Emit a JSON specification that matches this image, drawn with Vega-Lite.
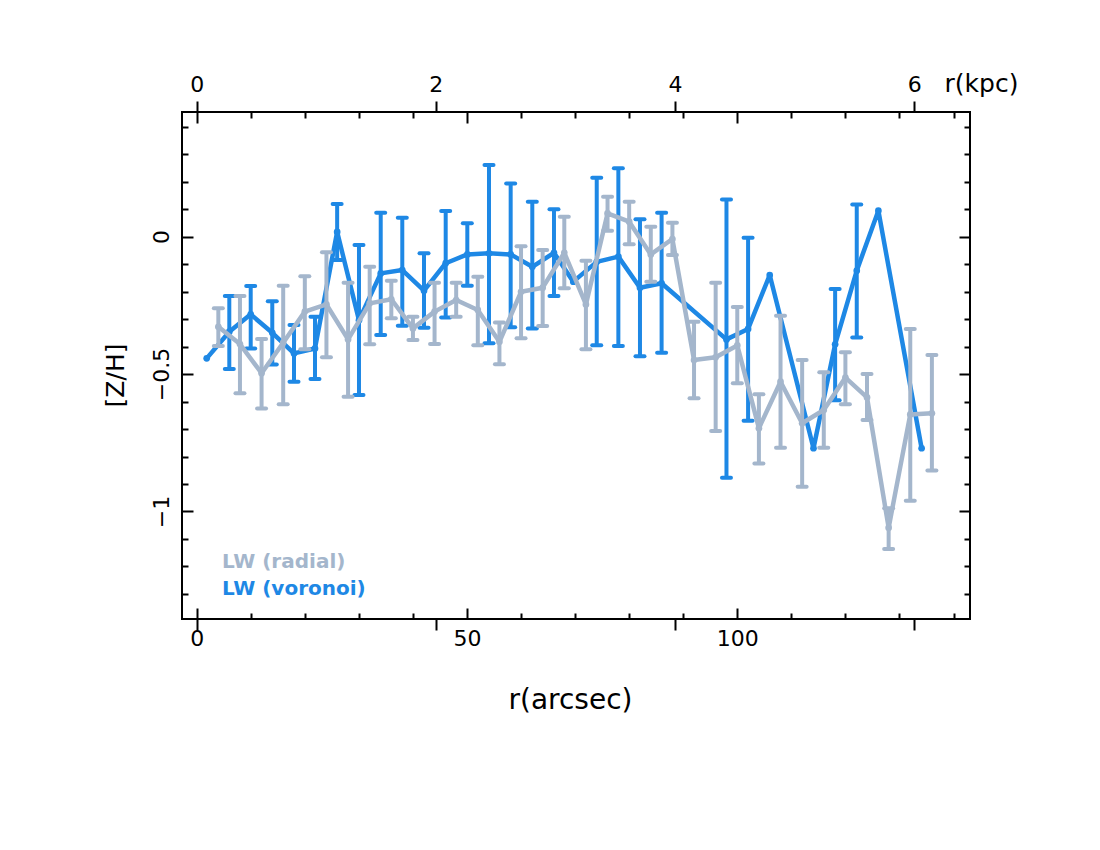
{
  "$schema": "https://vega.github.io/schema/vega-lite/v6.json",
  "width": 788,
  "height": 507,
  "autosize": {"type": "none"},
  "padding": {"left": 182, "top": 112, "right": 130, "bottom": 231},
  "background": "white",
  "config": {
    "view": {"stroke": "black", "strokeWidth": 2},
    "axis": {"domain": false, "grid": false, "tickColor": "black", "tickWidth": 2, "labelFont": "DejaVu Sans", "labelFontSize": 22, "labelColor": "black", "titleFont": "DejaVu Sans", "titleFontWeight": "normal", "titleColor": "black", "titleFontSize": 24}
  },
  "datasets": {
    "pts": [
      {"s": "LW (voronoi)", "r": 1.85, "z": -0.443, "lo": null, "hi": null},
      {"s": "LW (voronoi)", "r": 6.03, "z": -0.346, "lo": -0.482, "hi": -0.216},
      {"s": "LW (voronoi)", "r": 9.99, "z": -0.283, "lo": -0.407, "hi": -0.18},
      {"s": "LW (voronoi)", "r": 13.98, "z": -0.35, "lo": -0.465, "hi": -0.235},
      {"s": "LW (voronoi)", "r": 18.0, "z": -0.425, "lo": -0.528, "hi": -0.322},
      {"s": "LW (voronoi)", "r": 21.88, "z": -0.407, "lo": -0.518, "hi": -0.292},
      {"s": "LW (voronoi)", "r": 25.98, "z": 0.017, "lo": -0.085, "hi": 0.118},
      {"s": "LW (voronoi)", "r": 30.02, "z": -0.304, "lo": -0.576, "hi": -0.031},
      {"s": "LW (voronoi)", "r": 34.04, "z": -0.134, "lo": -0.358, "hi": 0.087},
      {"s": "LW (voronoi)", "r": 38.03, "z": -0.122, "lo": -0.324, "hi": 0.068},
      {"s": "LW (voronoi)", "r": 42.05, "z": -0.197, "lo": -0.332, "hi": -0.061},
      {"s": "LW (voronoi)", "r": 46.06, "z": -0.097, "lo": -0.294, "hi": 0.093},
      {"s": "LW (voronoi)", "r": 50.06, "z": -0.065, "lo": -0.179, "hi": 0.048},
      {"s": "LW (voronoi)", "r": 54.07, "z": -0.061, "lo": -0.388, "hi": 0.26},
      {"s": "LW (voronoi)", "r": 58.08, "z": -0.065, "lo": -0.33, "hi": 0.193},
      {"s": "LW (voronoi)", "r": 62.08, "z": -0.11, "lo": -0.334, "hi": 0.127},
      {"s": "LW (voronoi)", "r": 66.09, "z": -0.059, "lo": -0.216, "hi": 0.099},
      {"s": "LW (voronoi)", "r": 69.66, "z": -0.164, "lo": null, "hi": null},
      {"s": "LW (voronoi)", "r": 74.0, "z": -0.092, "lo": -0.395, "hi": 0.214},
      {"s": "LW (voronoi)", "r": 78.0, "z": -0.073, "lo": -0.398, "hi": 0.248},
      {"s": "LW (voronoi)", "r": 82.0, "z": -0.186, "lo": -0.435, "hi": 0.063},
      {"s": "LW (voronoi)", "r": 86.0, "z": -0.17, "lo": -0.423, "hi": 0.087},
      {"s": "LW (voronoi)", "r": 98.0, "z": -0.374, "lo": -0.877, "hi": 0.135},
      {"s": "LW (voronoi)", "r": 102.0, "z": -0.336, "lo": -0.67, "hi": -0.004},
      {"s": "LW (voronoi)", "r": 106.0, "z": -0.14, "lo": null, "hi": null},
      {"s": "LW (voronoi)", "r": 114.1, "z": -0.77, "lo": null, "hi": null},
      {"s": "LW (voronoi)", "r": 118.1, "z": -0.392, "lo": -0.595, "hi": -0.191},
      {"s": "LW (voronoi)", "r": 122.1, "z": -0.124, "lo": -0.367, "hi": 0.117},
      {"s": "LW (voronoi)", "r": 126.1, "z": 0.094, "lo": null, "hi": null},
      {"s": "LW (voronoi)", "r": 134.1, "z": -0.77, "lo": null, "hi": null},
      {"s": "LW (radial)", "r": 4, "z": -0.328, "lo": -0.398, "hi": -0.261},
      {"s": "LW (radial)", "r": 8, "z": -0.391, "lo": -0.57, "hi": -0.216},
      {"s": "LW (radial)", "r": 12, "z": -0.497, "lo": -0.625, "hi": -0.373},
      {"s": "LW (radial)", "r": 16, "z": -0.386, "lo": -0.61, "hi": -0.179},
      {"s": "LW (radial)", "r": 20, "z": -0.273, "lo": -0.41, "hi": -0.144},
      {"s": "LW (radial)", "r": 24, "z": -0.247, "lo": -0.439, "hi": -0.057},
      {"s": "LW (radial)", "r": 28, "z": -0.374, "lo": -0.583, "hi": -0.168},
      {"s": "LW (radial)", "r": 32, "z": -0.243, "lo": -0.392, "hi": -0.11},
      {"s": "LW (radial)", "r": 36, "z": -0.228, "lo": -0.297, "hi": -0.161},
      {"s": "LW (radial)", "r": 40, "z": -0.334, "lo": -0.376, "hi": -0.292},
      {"s": "LW (radial)", "r": 44, "z": -0.273, "lo": -0.391, "hi": -0.168},
      {"s": "LW (radial)", "r": 48, "z": -0.231, "lo": -0.292, "hi": -0.168},
      {"s": "LW (radial)", "r": 52, "z": -0.267, "lo": -0.395, "hi": -0.146},
      {"s": "LW (radial)", "r": 56, "z": -0.383, "lo": -0.464, "hi": -0.313},
      {"s": "LW (radial)", "r": 60, "z": -0.201, "lo": -0.37, "hi": -0.035},
      {"s": "LW (radial)", "r": 64, "z": -0.186, "lo": -0.325, "hi": -0.049},
      {"s": "LW (radial)", "r": 68, "z": -0.059, "lo": -0.188, "hi": 0.072},
      {"s": "LW (radial)", "r": 72, "z": -0.247, "lo": -0.41, "hi": -0.088},
      {"s": "LW (radial)", "r": 76, "z": 0.084, "lo": 0.021, "hi": 0.145},
      {"s": "LW (radial)", "r": 80, "z": 0.054, "lo": -0.028, "hi": 0.127},
      {"s": "LW (radial)", "r": 84, "z": -0.065, "lo": -0.164, "hi": 0.036},
      {"s": "LW (radial)", "r": 88, "z": -0.009, "lo": -0.067, "hi": 0.05},
      {"s": "LW (radial)", "r": 92, "z": -0.449, "lo": -0.588, "hi": -0.31},
      {"s": "LW (radial)", "r": 96, "z": -0.439, "lo": -0.707, "hi": -0.168},
      {"s": "LW (radial)", "r": 100, "z": -0.396, "lo": -0.534, "hi": -0.256},
      {"s": "LW (radial)", "r": 104, "z": -0.697, "lo": -0.825, "hi": -0.574},
      {"s": "LW (radial)", "r": 108, "z": -0.528, "lo": -0.768, "hi": -0.288},
      {"s": "LW (radial)", "r": 112, "z": -0.679, "lo": -0.91, "hi": -0.449},
      {"s": "LW (radial)", "r": 116, "z": -0.631, "lo": -0.768, "hi": -0.494},
      {"s": "LW (radial)", "r": 120, "z": -0.513, "lo": -0.61, "hi": -0.421},
      {"s": "LW (radial)", "r": 124, "z": -0.585, "lo": -0.667, "hi": -0.5},
      {"s": "LW (radial)", "r": 128, "z": -1.059, "lo": -1.136, "hi": -0.988},
      {"s": "LW (radial)", "r": 132, "z": -0.647, "lo": -0.961, "hi": -0.336},
      {"s": "LW (radial)", "r": 136, "z": -0.643, "lo": -0.851, "hi": -0.431}
    ]
  },
  "resolve": {"scale": {"x": "independent", "y": "independent"}, "axis": {"x": "independent", "y": "independent"}},
  "layer": [
    {
      "data": {"values": [{"a": 0, "b": 0}]},
      "mark": {"type": "point", "opacity": 0},
      "encoding": {
        "x": {"field": "a", "type": "quantitative", "scale": {"domain": [-2.72, 143.05], "nice": false, "zero": false},
          "axis": {"orient": "top", "values": [0, 10, 20, 30, 40, 50, 60, 70, 80, 90, 100, 110, 120, 130, 140],
            "tickSize": {"condition": {"test": "datum.value % 50 === 0", "value": -11}, "value": -6},
            "labels": false, "title": null}},
        "y": {"field": "b", "type": "quantitative", "scale": {"domain": [-1.391, 0.453], "nice": false, "zero": false},
          "axis": {"orient": "right", "values": [-1.3, -1.2, -1.1, -1, -0.9, -0.8, -0.7, -0.6, -0.5, -0.4, -0.3, -0.2, -0.1, 0, 0.1, 0.2, 0.3, 0.4],
            "tickSize": {"condition": {"test": "abs(datum.value*2 - round(datum.value*2)) < 0.001", "value": -11}, "value": -6},
            "labels": false, "title": null}}
      }
    },
    {
      "data": {"values": [{"a": 0, "b": 0}]},
      "mark": {"type": "point", "opacity": 0},
      "encoding": {
        "x": {"field": "a", "type": "quantitative", "scale": {"domain": [-2.72, 143.05], "nice": false, "zero": false},
          "axis": {"orient": "bottom", "values": [0, 10, 20, 30, 40, 50, 60, 70, 80, 90, 100, 110, 120, 130, 140],
            "tickSize": {"condition": {"test": "datum.value % 50 === 0", "value": -11}, "value": -6},
            "labelExpr": "datum.value % 50 === 0 ? datum.label : ''", "format": "d", "labelPadding": 20,
            "title": "r(arcsec)", "titleFontSize": 28, "titleX": 388, "titleY": 81, "titleAlign": "center", "titleBaseline": "middle"}},
        "y": {"field": "b", "type": "quantitative", "scale": {"domain": [-1.391, 0.453], "nice": false, "zero": false},
          "axis": {"orient": "left", "values": [-1.3, -1.2, -1.1, -1, -0.9, -0.8, -0.7, -0.6, -0.5, -0.4, -0.3, -0.2, -0.1, 0, 0.1, 0.2, 0.3, 0.4],
            "tickSize": {"condition": {"test": "abs(datum.value*2 - round(datum.value*2)) < 0.001", "value": -11}, "value": -6},
            "labelExpr": "abs(datum.value*2 - round(datum.value*2)) < 0.001 ? datum.label : ''", "format": "~g",
            "labelAngle": -90, "labelAlign": "center", "labelBaseline": "bottom", "labelPadding": 20,
            "title": "[Z/H]", "titleFontSize": 25, "titleAngle": -90, "titleX": -67, "titleY": 263, "titleAlign": "center", "titleBaseline": "middle"}}
      }
    },
    {
      "data": {"values": [{"k": 0}]},
      "mark": {"type": "point", "opacity": 0},
      "encoding": {
        "x": {"field": "k", "type": "quantitative", "scale": {"domain": [-0.123, 6.467], "nice": false, "zero": false},
          "axis": {"orient": "top", "values": [0, 2, 4, 6], "tickSize": 11, "labelPadding": 5, "format": "d",
            "title": "r(kpc)", "titleX": 799, "titleY": -29, "titleAlign": "center", "titleBaseline": "middle", "titleAngle": 0, "titleFontSize": 25}}
      }
    },
    {
      "data": {"values": [{"k": 0}]},
      "mark": {"type": "point", "opacity": 0},
      "encoding": {
        "x": {"field": "k", "type": "quantitative", "scale": {"domain": [-0.123, 6.467], "nice": false, "zero": false},
          "axis": {"orient": "bottom", "values": [0, 2, 4, 6], "tickSize": 11, "labels": false, "title": null}}
      }
    },
    {
      "data": {"name": "pts"},
      "encoding": {
        "x": {"field": "r", "type": "quantitative", "scale": {"domain": [-2.72, 143.05], "nice": false, "zero": false}, "axis": null},
        "y": {"field": "z", "type": "quantitative", "scale": {"domain": [-1.391, 0.453], "nice": false, "zero": false}, "axis": null},
        "color": {"field": "s", "type": "nominal",
          "scale": {"domain": ["LW (radial)", "LW (voronoi)"], "range": ["#a4b6cc", "#1e88e5"]},
          "legend": {"title": null, "orient": "none", "legendX": 20, "legendY": 440, "symbolOpacity": 0, "symbolSize": 0, "symbolStrokeWidth": 0,
            "labelFont": "DejaVu Sans", "labelFontSize": 20, "labelFontWeight": "bold", "labelOffset": 0, "rowPadding": 7, "padding": 0,
            "encode": {"labels": {"update": {"fill": [{"test": "datum.value === 'LW (radial)'", "value": "#a4b6cc"}, {"value": "#1e88e5"}]}}}}}
      },
      "layer": [
        {
          "transform": [{"filter": "datum.s === 'LW (voronoi)'"}],
          "layer": [
            {"transform": [{"filter": "datum.lo != null"}], "mark": {"type": "rule", "strokeWidth": 4},
             "encoding": {"y": {"field": "lo", "type": "quantitative", "scale": {"domain": [-1.391, 0.453], "nice": false, "zero": false}, "axis": null}, "y2": {"field": "hi"}}},
            {"transform": [{"filter": "datum.lo != null"}, {"fold": ["lo", "hi"], "as": ["k", "v"]}],
             "mark": {"type": "rule", "strokeWidth": 4, "strokeCap": "round", "xOffset": -4.5, "x2Offset": 4.5},
             "encoding": {"y": {"field": "v", "type": "quantitative", "scale": {"domain": [-1.391, 0.453], "nice": false, "zero": false}, "axis": null}, "x2": {"field": "r"}}},
            {"mark": {"type": "line", "strokeWidth": 4.5, "strokeJoin": "round", "strokeCap": "round"}},
            {"mark": {"type": "circle", "size": 45, "opacity": 1}}
          ]
        },
        {
          "transform": [{"filter": "datum.s === 'LW (radial)'"}],
          "layer": [
            {"transform": [{"filter": "datum.lo != null"}], "mark": {"type": "rule", "strokeWidth": 4},
             "encoding": {"y": {"field": "lo", "type": "quantitative", "scale": {"domain": [-1.391, 0.453], "nice": false, "zero": false}, "axis": null}, "y2": {"field": "hi"}}},
            {"transform": [{"filter": "datum.lo != null"}, {"fold": ["lo", "hi"], "as": ["k", "v"]}],
             "mark": {"type": "rule", "strokeWidth": 4, "strokeCap": "round", "xOffset": -4.5, "x2Offset": 4.5},
             "encoding": {"y": {"field": "v", "type": "quantitative", "scale": {"domain": [-1.391, 0.453], "nice": false, "zero": false}, "axis": null}, "x2": {"field": "r"}}},
            {"mark": {"type": "line", "strokeWidth": 4.5, "strokeJoin": "round", "strokeCap": "round"}},
            {"mark": {"type": "circle", "size": 45, "opacity": 1}}
          ]
        }
      ]
    }
  ]
}
